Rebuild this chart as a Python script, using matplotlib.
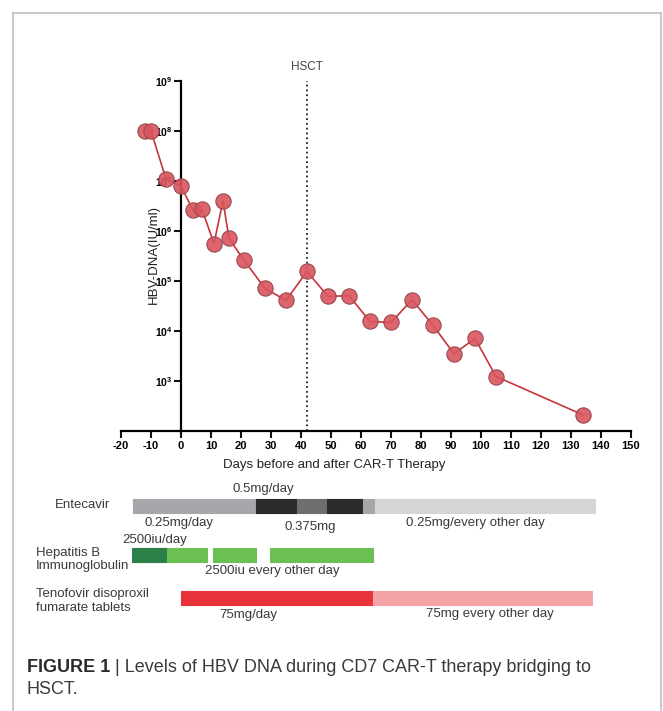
import matplotlib
matplotlib.use('Agg')
import matplotlib.pyplot as plt
from matplotlib.lines import Line2D
from matplotlib.ticker import NullLocator

plt.rcParams['font.family'] = ['Liberation Sans', 'DejaVu Sans']
plt.rcParams['mathtext.fontset'] = 'custom'
plt.rcParams['mathtext.rm'] = 'Liberation Sans'
plt.rcParams['mathtext.bf'] = 'Liberation Sans:bold'

# ---------------- data ----------------
days = [-12, -10, -5, 0, 4, 7, 11, 14, 16, 21, 28, 35, 42, 49, 56, 63, 70, 77, 84, 91, 98, 105, 134]
hbv_dna = [1.0e8, 1.0e8, 1.1e7, 7.9e6, 2.6e6, 2.7e6, 5.6e5, 4.0e6, 7.1e5, 2.6e5, 7.1e4, 4.1e4,
           1.55e5, 4.9e4, 5.1e4, 1.55e4, 1.48e4, 4.2e4, 1.3e4, 3.5e3, 7.1e3, 1.23e3, 2.1e2]
hsct_day = 42
x_ticks = list(range(-20, 151, 10))
y_ticks = [1e3, 1e4, 1e5, 1e6, 1e7, 1e8, 1e9]
y_tick_labels = [r'$\mathbf{10^{%d}}$' % e for e in range(3, 10)]

# treatment segments (start day, end day)
entecavir_seg = [(-16, 25), (25, 38.5), (38.5, 48.5), (48.5, 60.5), (60.5, 64.5), (64.5, 138)]
entecavir_col = ['#a6a6ab', '#2a2a2a', '#6f6f6f', '#2a2a2a', '#a6a6ab', '#d5d5d5']
hbig_seg = [(-16.4, -4.7), (-4.7, 8.6), (10.8, 25), (29.7, 64)]
hbig_col = ['#2b7f47', '#6cbf52', '#6cbf52', '#6cbf52']
tdf_seg = [(0, 64), (64, 137)]
tdf_col = ['#e8333b', '#f3a2a5']

# ---------------- figure ----------------
W, H = 663, 711
fig = plt.figure(figsize=(W / 100, H / 100), dpi=100)
fig.patch.set_facecolor('white')

def fx(px):
    return px / W

def fy(py):
    return 1 - py / H

# light gray frame
fc = '#c9c9c9'
fig.add_artist(Line2D([fx(13), fx(13)], [fy(13), 0], color=fc, lw=1.5, transform=fig.transFigure))
fig.add_artist(Line2D([fx(13), fx(661)], [fy(13), fy(13)], color=fc, lw=1.5, transform=fig.transFigure))
fig.add_artist(Line2D([fx(661), fx(661)], [fy(13), 0], color=fc, lw=1.5, transform=fig.transFigure))

# main axes
ax = fig.add_axes([fx(121), fy(431), fx(631) - fx(121), fy(81) - fy(431)])
ax.set_yscale('log')
ax.set_xlim(-20, 150)
ax.set_ylim(1e2, 1e9)
for s in ['top', 'right']:
    ax.spines[s].set_visible(False)
ax.spines['left'].set_position(('data', 0))
ax.spines['left'].set_linewidth(1.6)
ax.spines['bottom'].set_linewidth(1.6)
ax.set_xticks(x_ticks)
ax.set_xticklabels([str(t) for t in x_ticks], fontsize=8, fontweight='bold')
ax.set_yticks(y_ticks)
ax.set_yticklabels(y_tick_labels, fontsize=7.5)
ax.yaxis.set_minor_locator(NullLocator())
ax.tick_params(axis='both', direction='out', length=5, width=1.5, color='#111111')
ax.tick_params(axis='x', pad=2)
ax.tick_params(axis='y', pad=1)

ax.axvline(hsct_day, color='#222222', ls=':', lw=1.3, zorder=1)
ax.annotate('HSCT', xy=(hsct_day, 1e9), xytext=(0, 10), textcoords='offset points',
            ha='center', va='center', fontsize=8.5, color='#444444', annotation_clip=False)

ax.plot(days, hbv_dna, color='#c8343c', lw=1.2, marker='o', markersize=11,
        markerfacecolor=(0.85, 0.33, 0.37, 0.9), markeredgecolor='#9a4a50',
        markeredgewidth=0.8, zorder=3, clip_on=False)

fig.text(fx(154), fy(254), 'HBV-DNA(IU/ml)', rotation=90, ha='center', va='center',
         fontsize=9.5, color='#222222')
fig.text(fx(334), fy(465), 'Days before and after CAR-T Therapy', ha='center', va='center',
         fontsize=9.5, color='#222222')

# treatment axes (y in figure pixel rows)
bx = fig.add_axes([fx(121), fy(630), fx(631) - fx(121), fy(478) - fy(630)])
bx.set_xlim(-20, 150)
bx.set_ylim(630, 478)
bx.axis('off')

def draw_row(segs, cols, yc, h=14):
    for (a, b), c in zip(segs, cols):
        bx.barh(yc, b - a, left=a, height=h, color=c, edgecolor=c, lw=0.8,
                joinstyle='round', clip_on=False)

draw_row(entecavir_seg, entecavir_col, 506)
draw_row(hbig_seg, hbig_col, 555)
draw_row(tdf_seg, tdf_col, 598)

tc = '#3a3a3a'
tk = dict(fontsize=9.5, color=tc, clip_on=False)
bx.text(-33, 505, 'Entecavir', ha='center', va='center', **tk)
bx.text(27.3, 489, '0.5mg/day', ha='center', va='center', **tk)
bx.text(-0.7, 523, '0.25mg/day', ha='center', va='center', **tk)
bx.text(43, 527, '0.375mg', ha='center', va='center', **tk)
bx.text(98, 523, '0.25mg/every other day', ha='center', va='center', **tk)
bx.text(-8.7, 540, '2500iu/day', ha='center', va='center', **tk)
bx.text(-48.3, 559.5, 'Hepatitis B\nImmunoglobulin', ha='left', va='center', linespacing=1.15, **tk)
bx.text(30.5, 571, '2500iu every other day', ha='center', va='center', **tk)
bx.text(-48.3, 601, 'Tenofovir disoproxil\nfumarate tablets', ha='left', va='center', linespacing=1.15, **tk)
bx.text(22.3, 615, '75mg/day', ha='center', va='center', **tk)
bx.text(103, 614, '75mg every other day', ha='center', va='center', **tk)

# caption
cap = fig.text(fx(27), fy(667), 'FIGURE 1', ha='left', va='center', fontsize=13,
               fontweight='bold', color='#2a2a2a')
fig.add_artist(plt.Annotation(' | Levels of HBV DNA during CD7 CAR-T therapy bridging to',
                              xy=(1, 0), xycoords=cap, xytext=(0, 0), textcoords='offset points',
                              ha='left', va='bottom', fontsize=13, color='#3a3a3a'))
fig.text(fx(27), fy(689), 'HSCT.', ha='left', va='center', fontsize=13, color='#3a3a3a')

fig.savefig('out.png', dpi=100)
